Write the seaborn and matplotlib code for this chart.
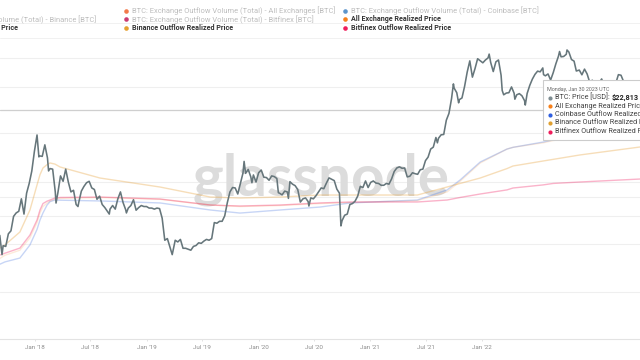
import matplotlib
matplotlib.use("Agg")
import matplotlib.pyplot as plt
import pandas as pd
import seaborn as sns
from matplotlib.patches import Rectangle
from matplotlib.ticker import NullLocator

# ---------------- data ----------------
price_dates = [
    "2017-09-08", "2017-09-14", "2017-09-17", "2017-09-24", "2017-10-01", "2017-10-08", "2017-10-15",
    "2017-10-22", "2017-10-29", "2017-11-05", "2017-11-12", "2017-11-19", "2017-11-26", "2017-12-03",
    "2017-12-10", "2017-12-17", "2017-12-22", "2017-12-24", "2017-12-31",
    "2018-01-07", "2018-01-14", "2018-01-17", "2018-01-21", "2018-01-28", "2018-02-04", "2018-02-06",
    "2018-02-11", "2018-02-18", "2018-02-25", "2018-03-04", "2018-03-11", "2018-03-18", "2018-03-25",
    "2018-04-01", "2018-04-06", "2018-04-08", "2018-04-15", "2018-04-22", "2018-04-29", "2018-05-06",
    "2018-05-13", "2018-05-20", "2018-05-27", "2018-06-03", "2018-06-10", "2018-06-17", "2018-06-24",
    "2018-06-29", "2018-07-01", "2018-07-08", "2018-07-15", "2018-07-22", "2018-07-29", "2018-08-05",
    "2018-08-12", "2018-08-14", "2018-08-19", "2018-08-26", "2018-09-02", "2018-09-09", "2018-09-16",
    "2018-09-23", "2018-09-30", "2018-10-07", "2018-10-14", "2018-10-21", "2018-10-28", "2018-11-04",
    "2018-11-11", "2018-11-18", "2018-11-25", "2018-12-02", "2018-12-09", "2018-12-15", "2018-12-23",
    "2018-12-30",
    "2019-01-06", "2019-01-13", "2019-01-20", "2019-01-27", "2019-02-03", "2019-02-10", "2019-02-17",
    "2019-02-24", "2019-03-03", "2019-03-10", "2019-03-17", "2019-03-24", "2019-03-31", "2019-04-07",
    "2019-04-14", "2019-04-21", "2019-04-28", "2019-05-05", "2019-05-12", "2019-05-19", "2019-05-26",
    "2019-06-02", "2019-06-09", "2019-06-16", "2019-06-23", "2019-06-26", "2019-06-30", "2019-07-07",
    "2019-07-14", "2019-07-17", "2019-07-21", "2019-07-28", "2019-08-04", "2019-08-11", "2019-08-18",
    "2019-08-25", "2019-09-01", "2019-09-08", "2019-09-15", "2019-09-22", "2019-09-26", "2019-09-29",
    "2019-10-06", "2019-10-13", "2019-10-20", "2019-10-23", "2019-10-27", "2019-11-03", "2019-11-10",
    "2019-11-17", "2019-11-24", "2019-12-01", "2019-12-08", "2019-12-15", "2019-12-17", "2019-12-22",
    "2019-12-29",
    "2020-01-05", "2020-01-12", "2020-01-19", "2020-01-26", "2020-02-02", "2020-02-09", "2020-02-16",
    "2020-02-23", "2020-03-01", "2020-03-08", "2020-03-12", "2020-03-15", "2020-03-22", "2020-03-29",
    "2020-04-05", "2020-04-12", "2020-04-19", "2020-04-26", "2020-05-03", "2020-05-10", "2020-05-17",
    "2020-05-24", "2020-05-31", "2020-06-07", "2020-06-14", "2020-06-21", "2020-06-28", "2020-07-05",
    "2020-07-12", "2020-07-19", "2020-07-26", "2020-08-02", "2020-08-09", "2020-08-16", "2020-08-23",
    "2020-08-30", "2020-09-06", "2020-09-13", "2020-09-20", "2020-09-27", "2020-10-04", "2020-10-11",
    "2020-10-18", "2020-10-25", "2020-11-01", "2020-11-08", "2020-11-15", "2020-11-22", "2020-11-26",
    "2020-11-29", "2020-12-06", "2020-12-13", "2020-12-20", "2020-12-27",
    "2021-01-03", "2021-01-08", "2021-01-10", "2021-01-17", "2021-01-22", "2021-01-24", "2021-01-31",
    "2021-02-07", "2021-02-14", "2021-02-21", "2021-02-28", "2021-03-07", "2021-03-14", "2021-03-21",
    "2021-03-28", "2021-04-04", "2021-04-11", "2021-04-14", "2021-04-18", "2021-04-25", "2021-05-02",
    "2021-05-09", "2021-05-16", "2021-05-19", "2021-05-23", "2021-05-30", "2021-06-06", "2021-06-13",
    "2021-06-20", "2021-06-22", "2021-06-27", "2021-07-04", "2021-07-11", "2021-07-18", "2021-07-20",
    "2021-07-25", "2021-08-01", "2021-08-08", "2021-08-15", "2021-08-22", "2021-08-29", "2021-09-05",
    "2021-09-07", "2021-09-12", "2021-09-19", "2021-09-26", "2021-10-03", "2021-10-10", "2021-10-17",
    "2021-10-20", "2021-10-24", "2021-10-31", "2021-11-07", "2021-11-09", "2021-11-14", "2021-11-21",
    "2021-11-28", "2021-12-04", "2021-12-12", "2021-12-19", "2021-12-26",
    "2022-01-02", "2022-01-09", "2022-01-16", "2022-01-22", "2022-01-30", "2022-02-06", "2022-02-10",
    "2022-02-13", "2022-02-20", "2022-02-24", "2022-02-27", "2022-03-06", "2022-03-13", "2022-03-20",
    "2022-03-27", "2022-04-03", "2022-04-10", "2022-04-17", "2022-04-24", "2022-05-01", "2022-05-08",
    "2022-05-12", "2022-05-15", "2022-05-24",
]
price_values = [
    4300, 3230, 3690, 3650, 4400, 4600, 5700,
    6000, 6150, 7400, 5900, 8050, 9300, 11200,
    15000, 19100, 13800, 14000, 13900,
    16500, 13600, 11200, 11600, 11500, 8200, 6950,
    8100, 10400, 9600, 11500, 9500, 8200, 8400,
    6800, 6600, 7000, 8300, 8900, 9400, 9600,
    8700, 8500, 7350, 7700, 6800, 6500, 6150,
    5900, 6350, 6700, 6350, 7400, 8200, 7000,
    6300, 6000, 6450, 6700, 7300, 6250, 6500,
    6700, 6600, 6600, 6450, 6450, 6350, 6450,
    6400, 5550, 4000, 4100, 3600, 3230, 4000,
    3900,
    4050, 3550, 3550, 3500, 3450, 3650, 3700,
    3850, 3820, 3950, 4050, 4000, 4100, 5200,
    5150, 5300, 5300, 5750, 7000, 8200, 8750,
    8700, 7950, 9300, 10850, 12900, 10800, 11450,
    10250, 9400, 10550, 9500, 10900, 11350, 10200,
    10150, 9750, 10400, 10300, 10000, 8100, 8050,
    7850, 8300, 8200, 7450, 9550, 9200, 9000,
    8500, 7050, 7400, 7500, 7100, 6650, 7500,
    7400,
    7750, 8200, 8700, 8600, 9350, 10100, 9900,
    9700, 8550, 8050, 4950, 5350, 5800, 5900,
    6800, 6900, 7150, 7700, 8900, 8750, 9650,
    8750, 9450, 9650, 9350, 9300, 9050, 9050,
    9300, 9200, 9950, 11100, 11700, 11900, 11650,
    11700, 10250, 10350, 10900, 10750, 10650, 11400,
    11500, 13050, 13750, 15500, 15950, 18400, 17000,
    18200, 19150, 19250, 23800, 26300,
    32800, 40800, 38300, 35800, 30800, 32300, 33100,
    39300, 48600, 57400, 45100, 51200, 59300, 57500,
    55800, 58200, 60000, 63500, 56200, 49000, 56600,
    58200, 46400, 37000, 34700, 35600, 35800, 39000,
    35500, 32500, 34700, 35300, 34200, 31800, 29800,
    35400, 39900, 43800, 47000, 49300, 48800, 51700,
    46800, 46000, 47300, 43200, 48200, 54900, 61500,
    66000, 61000, 61300, 63300, 67500, 65500, 58600,
    57200, 49400, 50100, 46700, 50800,
    47300, 41800, 43100, 35100, 37900, 42400, 43900,
    42200, 38300, 38300, 37700, 38400, 37800, 41200,
    46800, 46400, 42200, 39700, 39500, 38500, 34000,
    28900, 31300, 30300,
]

line_dates = [
    "2017-09-08", "2017-09-22", "2017-11-01", "2017-11-28", "2017-12-17", "2017-12-25", "2018-01-02",
    "2018-01-13", "2018-01-21", "2018-02-03", "2018-02-17", "2018-06-04", "2018-11-12", "2019-03-27",
    "2019-06-15", "2019-10-01", "2020-01-16", "2020-04-06", "2020-10-03", "2020-12-22", "2021-01-26",
    "2021-03-21", "2021-06-01", "2021-06-17", "2021-09-06", "2021-10-03", "2021-12-14", "2022-05-24",
]
all_exchange_rp = [
    3050, 3200, 3450, 4150, 5200, 6000, 6600,
    6950, 7150, 7350, 7450, 7550, 7350, 6750,
    6600, 6700, 6900, 7000, 7200, 8200, 9600,
    12600, 15500, 15900, 17000, 17600, 18200, 18900,
]
coinbase_rp = [
    2800, 2900, 3070, 3730, 4700, 5400, 6000,
    6750, 7100, 7270, 7250, 7170, 6960, 6270,
    5990, 6270, 6550, 6960, 7270, 8440, 9790,
    12790, 15500, 15900, 17200, 17740, 18300, 18900,
]
binance_rp = [
    3560, 3730, 4520, 6270, 9090, 10600, 11700,
    12300, 12600, 12400, 11870, 10080, 8820, 7600,
    7490, 7600, 7830, 7830, 7830, 8820, 9300,
    10080, 11600, 12050, 12980, 13300, 14200, 15980,
]
bitfinex_rp = [
    3210, 3300, 3560, 4320, 5400, 6270, 6900,
    7150, 7270, 7490, 7550, 7600, 7380, 6750,
    6650, 6750, 6960, 7060, 7060, 7270, 7550,
    7950, 8450, 8690, 9100, 9300, 9500, 9930,
]

tick_dates = ["2017-12-12", "2018-05-08", "2018-10-08", "2019-03-05", "2019-08-05",
              "2019-12-31", "2020-05-29", "2020-10-27", "2021-03-26"]
tick_labels = ["Jan '18", "Jul '18", "Jan '19", "Jul '19", "Jan '20",
               "Jul '20", "Jan '21", "Jul '21", "Jan '22"]
grid_values = [59950, 38970, 19670, 9500, 7600, 5730, 3780, 1854]
crosshair_value = 27690

legend_rows = [
    # (x_dot_px, y_px, colour, text, active)
    (-93, 10.7, "#9aa5aa", "BTC: Price [USD]", False),
    (126, 10.7, "#f0622a", "BTC: Exchange Outflow Volume (Total) - All Exchanges [BTC]", False),
    (345, 10.7, "#3f83c4", "BTC: Exchange Outflow Volume (Total) - Coinbase [BTC]", False),
    (-93, 19.2, "#e8a33d", "BTC: Exchange Outflow Volume (Total) - Binance [BTC]", False),
    (126, 19.2, "#c2185b", "BTC: Exchange Outflow Volume (Total) - Bitfinex [BTC]", False),
    (345, 19.2, "#f7801a", "All Exchange Realized Price", True),
    (-93, 27.8, "#2f6fe0", "Coinbase Outflow Realized Price", True),
    (126, 27.8, "#e5a02f", "Binance Outflow Realized Price", True),
    (345, 27.8, "#ef1d5b", "Bitfinex Outflow Realized Price", True),
]
tooltip_date = "Monday, Jan 30 2023 UTC"
tooltip_rows = [
    ("#7d8c91", "BTC: Price [USD]: ", "$22,813"),
    ("#f7801a", "All Exchange Realized Price", ""),
    ("#2f5fe0", "Coinbase Outflow Realized Price", ""),
    ("#e0a030", "Binance Outflow Realized Price", ""),
    ("#ef1d5b", "Bitfinex Outflow Realized Price", ""),
]

# ---------------- style ----------------
sns.set_theme(style="white")
plt.rcParams['font.family'] = ['Roboto', 'DejaVu Sans']

W, H = 640, 360
fig = plt.figure(figsize=(6.4, 3.6), dpi=100)
ax = fig.add_axes([0, 1 - 339 / H, 1, (339 - 40) / H])


def fx(x):
    return x / W


def fy(y):
    return 1 - y / H


pdates = pd.to_datetime(price_dates)
ldates = pd.to_datetime(line_dates)

series = [
    (all_exchange_rp, "#f7801a", 0.16),
    (coinbase_rp, "#3366dd", 0.27),
    (binance_rp, "#e8a33d", 0.36),
    (bitfinex_rp, "#f0145a", 0.32),
]
for vals, col, a in series:
    sns.lineplot(x=ldates, y=vals, ax=ax, color=col, alpha=a, linewidth=1.0, zorder=3)

sns.lineplot(x=pdates, y=price_values, ax=ax, color="#66767b", linewidth=1.15, zorder=4)

ax.set_yscale("log")
ax.set_ylim(922.6, 78300)
ax.set_xlim(pd.Timestamp("2017-09-08 14:00"), pd.Timestamp("2022-05-24"))
ax.yaxis.set_minor_locator(NullLocator())
ax.set_yticks(grid_values)
ax.set_yticklabels([])
ax.tick_params(axis="y", length=0)
ax.yaxis.grid(True, color="#efefef", linewidth=0.8)
ax.xaxis.grid(False)
ax.axhline(crosshair_value, color="#cfcfcf", linewidth=0.9, zorder=2)

ax.set_xticks(pd.to_datetime(tick_dates))
ax.set_xticklabels(tick_labels, fontsize=4.5, color="#8c8c8c")
ax.tick_params(axis="x", length=1.5, width=0.6, color="#dddddd", pad=2.5, bottom=True)
ax.set_xlabel("")
ax.set_ylabel("")
for s in ["top", "left", "right"]:
    ax.spines[s].set_visible(False)
ax.spines["bottom"].set_color("#e3e3e3")
ax.spines["bottom"].set_linewidth(0.8)

# watermark
ax.text(fx(321), fy(195), "glassnode", transform=fig.transFigure, ha="center", va="baseline",
        fontsize=42, color="#dcdcdc", family=["Lato", "DejaVu Sans"], fontweight="bold", zorder=1)

# legend separators
for yy in (22.7, 37.5):
    fig.add_artist(plt.Line2D([0, 1], [fy(yy), fy(yy)], color="#efefef", linewidth=0.6))

for xd, yy, col, txt, active in legend_rows:
    fig.add_artist(plt.Line2D([fx(xd)], [fy(yy)], marker="o", markersize=3.3, color=col,
                              markeredgewidth=0, alpha=1.0 if active else 0.85))
    fig.text(fx(xd + 6), fy(yy), txt, fontsize=5.1 if active else 5.4, va="center", ha="left",
             color="#333333" if active else "#bdbdbd",
             fontweight="bold" if active else "normal")

# tooltip
ax.add_patch(Rectangle((fx(543), fy(140)), fx(110), (140 - 80) / H, transform=fig.transFigure,
                       facecolor="white", edgecolor="#cccccc", linewidth=0.8, zorder=10,
                       clip_on=False))
ax.text(fx(547), fy(89), tooltip_date, transform=fig.transFigure, fontsize=3.9, color="#666666",
        va="center", ha="left", zorder=11)
row_y = [97.5, 106, 114.5, 123, 131.5]
for (col, label, val), yy in zip(tooltip_rows, row_y):
    ax.plot([fx(549.5)], [fy(yy)], marker="o", markersize=3.0, color=col, markeredgewidth=0,
            transform=fig.transFigure, zorder=11, clip_on=False)
    ax.text(fx(555), fy(yy), label, transform=fig.transFigure, fontsize=5.2, color="#444444",
            va="center", ha="left", zorder=11)
    if val:
        ax.text(fx(612), fy(yy), val, transform=fig.transFigure, fontsize=5.2, color="#222222",
                fontweight="bold", va="center", ha="left", zorder=11)

fig.savefig("out.png", dpi=100)
